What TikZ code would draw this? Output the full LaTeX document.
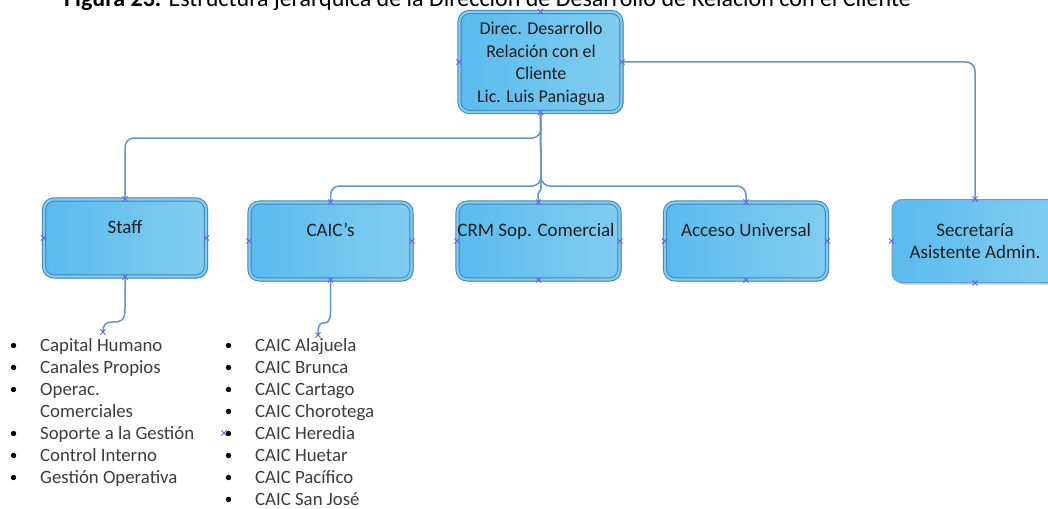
\documentclass[tikz,border=0pt]{standalone}
\usepackage{fontspec}
\setmainfont{Carlito}
\usetikzlibrary{shadows}
\definecolor{boxA}{HTML}{5ABBEE}
\definecolor{boxB}{HTML}{82CDF0}
\definecolor{boxline}{HTML}{3C86BA}
\definecolor{boxdouble}{HTML}{86CAEC}
\definecolor{conn}{HTML}{6395BE}
\definecolor{cpcol}{HTML}{6E5FE8}
\definecolor{txt}{HTML}{1E1E1E}
\definecolor{listtxt}{HTML}{3C3C3C}
\newcommand\cpmk[1]{\draw[cpstyle] (#1) ++(-2.6,-2.6) -- ++(5.2,5.2) ++(-5.2,0) -- ++(5.2,-5.2);}
\begin{document}
\begin{tikzpicture}[x=1pt,y=-1pt,
  orgbox/.style={rounded corners=10pt, minimum width=162pt, minimum height=77pt, inner sep=0pt,
    left color=boxA, right color=boxB, draw=boxline, line width=1pt,
    double=boxdouble, double distance=2.2pt,
    drop shadow={shadow xshift=2pt, shadow yshift=-2pt, opacity=0.22, fill=black}},
  secbox/.style={rounded corners=10pt, minimum width=166pt, minimum height=83pt, inner sep=0pt,
    left color=boxA, right color=boxB, draw=boxline!80, line width=1pt,
    drop shadow={shadow xshift=2pt, shadow yshift=-2pt, opacity=0.22, fill=black}},
  boxtext/.style={font=\fontsize{19}{22}\selectfont, text=txt, inner sep=0pt, align=center},
  toptext/.style={font=\fontsize{18}{22.5}\selectfont, text=txt, inner sep=0pt, align=center},
  listtext/.style={font=\fontsize{18.8}{22}\selectfont, text=listtxt, inner sep=0pt, anchor=base west},
  connector/.style={draw=conn, line width=1.5pt, rounded corners=9pt},
  plainconn/.style={draw=conn, line width=1.5pt},
  cpstyle/.style={draw=cpcol, line width=0.8pt},
  bulletdot/.style={fill=black}
]
\useasboundingbox (0,0) rectangle (1048,508);

% title (partly cut at the top, as in the reference)
\node[anchor=base west, inner sep=0pt, font=\fontsize{24}{26}\selectfont, text=black] (title) at (64,7)
  {\textbf{Figura 23.} Estructura jerárquica de la Dirección de Desarrollo de Relación con el Cliente};

% boxes
\node[orgbox, minimum height=100pt] (top) at (540.5,62) {};
\node[orgbox] (staff) at (125,238) {};
\node[orgbox] (caic) at (330.5,241) {};
\node[orgbox] (crm) at (538.5,241) {};
\node[orgbox] (acc) at (746,241) {};
\node[secbox] (sec) at (975,241) {};

% box texts
\node[toptext, anchor=north] (topt) at (541,22) {Direc. Desarrollo\\Relación con el\\Cliente\\Lic. Luis Paniagua};
\node[boxtext, anchor=base] (stafft) at (125,233) {Staff};
\node[boxtext, anchor=base] (caict) at (330.5,236) {CAIC’s};
\node[boxtext, anchor=base] (crmt) at (536,236) {CRM Sop. Comercial};
\node[boxtext, anchor=base] (acct) at (746,236) {Acceso Universal};
\node[boxtext, anchor=base] (sect) at (975,258) {Secretaría\\Asistente Admin.};

% connectors
\draw[connector] (top.south) -- (541,138) -- (125,138) -- (staff.north);
\draw[connector] (top.south) -- (541,186) -- (330.5,186) -- (caic.north);
\draw[connector] (top.south) -- (541,186) -- (746,186) -- (acc.north);
\draw[plainconn] (top.south) -- (541,188) .. controls (541,192) and (538,191) .. (538,195) -- (crm.north);
\draw[connector] (top.east) -- (975,62) -- (sec.north);

\coordinate (staffend) at (103,332);
\coordinate (caicend) at (318,335);
\draw[plainconn] (staff.south) -- (125,308) .. controls (125,321) and (121,322) .. (113,322)
  .. controls (105,322) and (103,325) .. (staffend);
\draw[plainconn] (caic.south) -- (330.5,312) .. controls (330.5,322) and (327,323) .. (323,323)
  .. controls (319,323) and (318,327) .. (caicend);

% connection point marks
\foreach \b in {top,staff,caic,crm,acc,sec}{
  \foreach \a in {north,south,east,west}{ \cpmk{\b.\a} }
}
\cpmk{staffend}
\cpmk{caicend}
\coordinate (heredmark) at (224,433);
\cpmk{heredmark}

% Staff list
\node[listtext] (s1) at (40,351) {Capital Humano};
\node[listtext] (s2) at (40,373) {Canales Propios};
\node[listtext] (s3) at (40,395) {Operac.};
\node[listtext] (s4) at (40,417) {Comerciales};
\node[listtext] (s5) at (40,439) {Soporte a la Gestión};
\node[listtext] (s6) at (40,461) {Control Interno};
\node[listtext] (s7) at (40,483) {Gestión Operativa};
\foreach \y in {351,373,395,439,461,483}{ \fill[bulletdot] (13.5,\y-5.5) circle (2.7); }

% CAIC list
\node[listtext] (c1) at (255,351) {CAIC Alajuela};
\node[listtext] (c2) at (255,373) {CAIC Brunca};
\node[listtext] (c3) at (255,395) {CAIC Cartago};
\node[listtext] (c4) at (255,417) {CAIC Chorotega};
\node[listtext] (c5) at (255,439) {CAIC Heredia};
\node[listtext] (c6) at (255,461) {CAIC Huetar};
\node[listtext] (c7) at (255,483) {CAIC Pacífico};
\node[listtext] (c8) at (255,505) {CAIC San José};
\foreach \y in {351,373,395,417,439,461,483,505}{ \fill[bulletdot] (228.5,\y-5.5) circle (2.7); }
\end{tikzpicture}
\end{document}
